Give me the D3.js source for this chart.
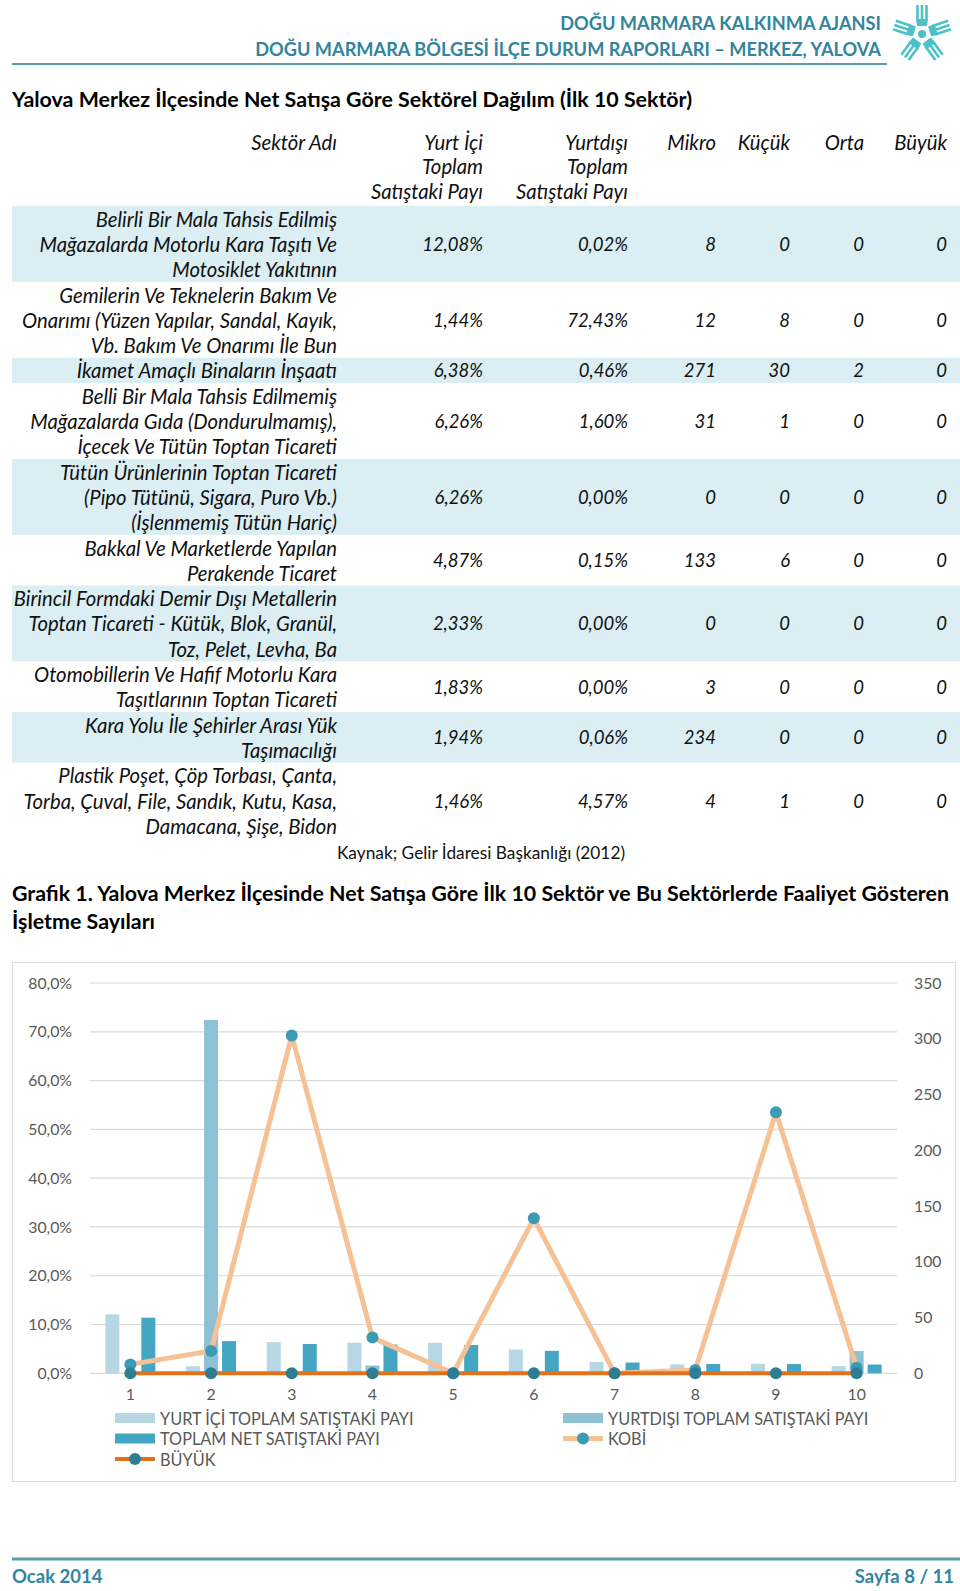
<!DOCTYPE html>
<html><head><meta charset="utf-8">
<script src="https://cdn.jsdelivr.net/npm/d3@7"></script>
<style>body{margin:0;background:#fff} svg{display:block}</style>
</head><body><svg id="page" width="960" height="1591"></svg>
<script>
// ---------- DATA ----------
const sectorNames = [
  ["Belirli Bir Mala Tahsis Edilmiş","Mağazalarda Motorlu Kara Taşıtı Ve","Motosiklet Yakıtının"],
  ["Gemilerin Ve Teknelerin Bakım Ve","Onarımı (Yüzen Yapılar, Sandal, Kayık,","Vb. Bakım Ve Onarımı İle Bun"],
  ["İkamet Amaçlı Binaların İnşaatı"],
  ["Belli Bir Mala Tahsis Edilmemiş","Mağazalarda Gıda (Dondurulmamış),","İçecek Ve Tütün Toptan Ticareti"],
  ["Tütün Ürünlerinin Toptan Ticareti","(Pipo Tütünü, Sigara, Puro Vb.)","(İşlenmemiş Tütün Hariç)"],
  ["Bakkal Ve Marketlerde Yapılan","Perakende Ticaret"],
  ["Birincil Formdaki Demir Dışı Metallerin","Toptan Ticareti - Kütük, Blok, Granül,","Toz, Pelet, Levha, Ba"],
  ["Otomobillerin Ve Hafif Motorlu Kara","Taşıtlarının Toptan Ticareti"],
  ["Kara Yolu İle Şehirler Arası Yük","Taşımacılığı"],
  ["Plastik Poşet, Çöp Torbası, Çanta,","Torba, Çuval, File, Sandık, Kutu, Kasa,","Damacana, Şişe, Bidon"]
];
const yurtIciPayi   = [12.08, 1.44, 6.38, 6.26, 6.26, 4.87, 2.33, 1.83, 1.94, 1.46];
const yurtDisiPayi  = [0.02, 72.43, 0.46, 1.60, 0.00, 0.15, 0.00, 0.00, 0.06, 4.57];
const toplamNetPayi = [11.4, 6.6, 6.0, 5.9, 5.8, 4.6, 2.2, 1.9, 1.9, 1.8];
const mikro = [8, 12, 271, 31, 0, 133, 0, 3, 234, 4];
const kucuk = [0, 8, 30, 1, 0, 6, 0, 0, 0, 1];
const orta  = [0, 0, 2, 0, 0, 0, 0, 0, 0, 0];
const buyuk = [0, 0, 0, 0, 0, 0, 0, 0, 0, 0];
const kobi  = mikro.map((m, i) => m + kucuk[i] + orta[i]);
const categories = ["1","2","3","4","5","6","7","8","9","10"];
const leftTicks  = [0, 10, 20, 30, 40, 50, 60, 70, 80];
const rightTicks = [0, 50, 100, 150, 200, 250, 300, 350];
const tableHeaders = [
  ["Sektör Adı"], ["Yurt İçi","Toplam","Satıştaki Payı"], ["Yurtdışı","Toplam","Satıştaki Payı"],
  ["Mikro"], ["Küçük"], ["Orta"], ["Büyük"]
];
const barSeries = ["YURT İÇİ TOPLAM SATIŞTAKİ PAYI","YURTDIŞI TOPLAM SATIŞTAKİ PAYI","TOPLAM NET SATIŞTAKİ PAYI"];
const lineSeries = ["KOBİ","BÜYÜK"];

// ---------- STYLE ----------
const FONT = "Lato, 'Noto Sans', sans-serif";
const TEAL = "#31859c";
const C_YI = "#b6d7e3", C_YD = "#8fc1d4", C_NET = "#45a6c3";
const C_KOBI = "#f5c195", C_KOBI_M = "#3b9ab4", C_BUY = "#e2711d", C_BUY_M = "#2d7d94";

const svg = d3.select("#page");
const pct2 = v => v.toFixed(2).replace(".", ",") + "%";

// ---------- PAGE HEADER ----------
svg.append("text").attr("x", 881).attr("y", 23).attr("text-anchor","end").attr("dominant-baseline","central")
  .attr("font-family", FONT).attr("font-weight", 700).attr("font-size", 18.2).attr("fill", TEAL)
  .text("DOĞU MARMARA KALKINMA AJANSI");
svg.append("text").attr("x", 881).attr("y", 49).attr("text-anchor","end").attr("dominant-baseline","central")
  .attr("font-family", FONT).attr("font-weight", 700).attr("font-size", 18.2).attr("fill", TEAL)
  .text("DOĞU MARMARA BÖLGESİ İLÇE DURUM RAPORLARI – MERKEZ, YALOVA");
svg.append("line").attr("x1", 12).attr("x2", 887).attr("y1", 64).attr("y2", 64)
  .attr("stroke", "#5b9ea6").attr("stroke-width", 2);

// logo
const logo = svg.append("g").attr("transform", "translate(922,34)").attr("fill", "#4cc1c6");
logo.append("circle").attr("r", 4);
for (let k = 0; k < 5; k++) {
  const arm = logo.append("g").attr("transform", `rotate(${k * 72})`);
  arm.append("path").attr("d", "M-5,-8 L5,-8 L6,-15 L-6,-15 Z");
  [-4.5, 0, 4.5].forEach(dx => arm.append("rect").attr("x", dx - 1.3).attr("y", -29).attr("width", 2.6).attr("height", 15));
}

// ---------- TABLE ----------
svg.append("text").attr("x", 12).attr("y", 99).attr("dominant-baseline","central")
  .attr("font-family", FONT).attr("font-weight", 700).attr("font-size", 21.4).attr("fill", "#000")
  .text("Yalova Merkez İlçesinde Net Satışa Göre Sektörel Dağılım (İlk 10 Sektör)");

const colRight = [337, 483, 628, 716, 790, 864, 947];
const LH = 25.3, tableTop = 206;
const tFont = 20.3, nFont = 18.5;
const tableG = svg.append("g").attr("font-family", FONT).attr("font-style", "italic")
  .attr("font-size", tFont).attr("fill", "#111");

tableHeaders.forEach((lines, c) => {
  lines.forEach((ln, j) => tableG.append("text").attr("x", colRight[c]).attr("y", 142 + j * 24.4)
    .attr("text-anchor", "end").attr("dominant-baseline", "central").text(ln));
});

let yCur = tableTop;
sectorNames.forEach((lines, i) => {
  const h = lines.length * LH;
  if (i % 2 === 0) {
    tableG.insert("rect", ":first-child").attr("x", 12).attr("y", yCur).attr("width", 948).attr("height", h)
      .attr("fill", "#daeef3");
  }
  lines.forEach((ln, j) => tableG.append("text").attr("x", colRight[0]).attr("y", yCur + LH * (j + 0.5))
    .attr("text-anchor", "end").attr("dominant-baseline", "central").text(ln));
  const cy = yCur + h / 2;
  const vals = [pct2(yurtIciPayi[i]), pct2(yurtDisiPayi[i]), mikro[i], kucuk[i], orta[i], buyuk[i]];
  vals.forEach((v, c) => tableG.append("text").attr("x", colRight[c + 1]).attr("y", cy)
    .attr("text-anchor", "end").attr("dominant-baseline", "central").attr("font-size", nFont).text(v));
  yCur += h;
});
svg.append("text").attr("x", 481).attr("y", 852).attr("text-anchor", "middle").attr("dominant-baseline", "central")
  .attr("font-family", FONT).attr("font-size", 17.3).attr("fill", "#111")
  .text("Kaynak; Gelir İdaresi Başkanlığı (2012)");

// ---------- CHART TITLE ----------
const ttl = svg.append("g").attr("font-family", FONT).attr("font-weight", 700).attr("font-size", 21.4).attr("fill", "#000");
ttl.append("text").attr("x", 12).attr("y", 893).attr("dominant-baseline", "central")
  .text("Grafik 1. Yalova Merkez İlçesinde Net Satışa Göre İlk 10 Sektör ve Bu Sektörlerde Faaliyet Gösteren");
ttl.append("text").attr("x", 12).attr("y", 921).attr("dominant-baseline", "central").text("İşletme Sayıları");

// ---------- CHART ----------
svg.append("rect").attr("x", 12.5).attr("y", 962.5).attr("width", 943).attr("height", 519)
  .attr("fill", "#fff").attr("stroke", "#d9d9d9").attr("stroke-width", 1);

const plotL = 90, plotR = 897, plotT = 983, plotB = 1373.3;
const x = d3.scaleBand().domain(categories).range([plotL, plotR]).paddingInner(0).paddingOuter(0);
const xs = d3.scaleBand().domain(barSeries).range([-25, 25]).paddingInner(4 / 18).paddingOuter(0);
const yL = d3.scaleLinear().domain([0, 80]).range([plotB, plotT]);
const yR = d3.scaleLinear().domain([0, 350]).range([plotB, plotT]);

const chart = svg.append("g");
// gridlines
chart.append("g").selectAll("line").data(leftTicks).join("line")
  .attr("x1", plotL).attr("x2", plotR).attr("y1", d => yL(d)).attr("y2", d => yL(d))
  .attr("stroke", "#d9d9d9").attr("stroke-width", 1.2);

// axes
const axL = chart.append("g").attr("transform", `translate(${plotL},0)`)
  .call(d3.axisLeft(yL).tickValues(leftTicks).tickSize(0).tickPadding(18)
    .tickFormat(d => d.toFixed(1).replace(".", ",") + "%"));
const axR = chart.append("g").attr("transform", `translate(${plotR},0)`)
  .call(d3.axisRight(yR).tickValues(rightTicks).tickSize(0).tickPadding(17));
const axB = chart.append("g").attr("transform", `translate(0,${plotB})`)
  .call(d3.axisBottom(x).tickSize(0).tickPadding(15));
[axL, axR, axB].forEach(a => {
  a.select(".domain").remove();
  a.selectAll("text").attr("font-family", FONT).attr("font-size", 15.8).attr("fill", "#595959");
});

// bars
const barData = [yurtIciPayi, yurtDisiPayi, toplamNetPayi];
const barColors = [C_YI, C_YD, C_NET];
barSeries.forEach((s, si) => {
  chart.append("g").selectAll("rect").data(barData[si]).join("rect")
    .attr("x", (d, i) => x(categories[i]) + x.bandwidth() / 2 + xs(s))
    .attr("width", xs.bandwidth())
    .attr("y", d => yL(d)).attr("height", d => yL(0) - yL(d))
    .attr("fill", barColors[si]);
});

const cx = i => x(categories[i]) + x.bandwidth() / 2;
const line = d3.line().x((d, i) => cx(i)).y(d => yR(d));
// KOBİ
chart.append("path").datum(kobi).attr("d", line).attr("fill", "none")
  .attr("stroke", C_KOBI).attr("stroke-width", 5).attr("stroke-linejoin", "round");
chart.append("g").selectAll("circle").data(kobi).join("circle")
  .attr("cx", (d, i) => cx(i)).attr("cy", d => yR(d)).attr("r", 6).attr("fill", C_KOBI_M);
// BÜYÜK
chart.append("path").datum(buyuk).attr("d", line).attr("fill", "none")
  .attr("stroke", C_BUY).attr("stroke-width", 4);
chart.append("g").selectAll("circle").data(buyuk).join("circle")
  .attr("cx", (d, i) => cx(i)).attr("cy", d => yR(d)).attr("r", 6).attr("fill", C_BUY_M);

// legend
const lg = svg.append("g").attr("font-family", FONT).attr("font-size", 16.3).attr("fill", "#595959");
const legendItems = [
  {name: barSeries[0], type: "bar", color: C_YI, x: 115, y: 1418},
  {name: barSeries[1], type: "bar", color: C_YD, x: 563, y: 1418},
  {name: barSeries[2], type: "bar", color: C_NET, x: 115, y: 1438.5},
  {name: lineSeries[0], type: "line", color: C_KOBI, m: C_KOBI_M, x: 563, y: 1438.5},
  {name: lineSeries[1], type: "line", color: C_BUY, m: C_BUY_M, x: 115, y: 1459}
];
legendItems.forEach(it => {
  if (it.type === "bar") {
    lg.append("rect").attr("x", it.x).attr("y", it.y - 5).attr("width", 40).attr("height", 10).attr("fill", it.color);
  } else {
    lg.append("line").attr("x1", it.x).attr("x2", it.x + 40).attr("y1", it.y).attr("y2", it.y)
      .attr("stroke", it.color).attr("stroke-width", it.name === "KOBİ" ? 5 : 4);
    lg.append("circle").attr("cx", it.x + 20).attr("cy", it.y).attr("r", 6).attr("fill", it.m);
  }
  lg.append("text").attr("x", it.x + 45).attr("y", it.y).attr("dominant-baseline", "central").text(it.name);
});

// ---------- FOOTER ----------
svg.append("line").attr("x1", 12).attr("x2", 960).attr("y1", 1559).attr("y2", 1559)
  .attr("stroke", "#5b9ea6").attr("stroke-width", 3);
svg.append("text").attr("x", 12).attr("y", 1576).attr("dominant-baseline", "central")
  .attr("font-family", FONT).attr("font-weight", 700).attr("font-size", 18.5).attr("fill", TEAL).text("Ocak 2014");
svg.append("text").attr("x", 954).attr("y", 1576).attr("text-anchor", "end").attr("dominant-baseline", "central")
  .attr("font-family", FONT).attr("font-weight", 700).attr("font-size", 18.5).attr("fill", TEAL).text("Sayfa 8 / 11");
</script></body></html>
